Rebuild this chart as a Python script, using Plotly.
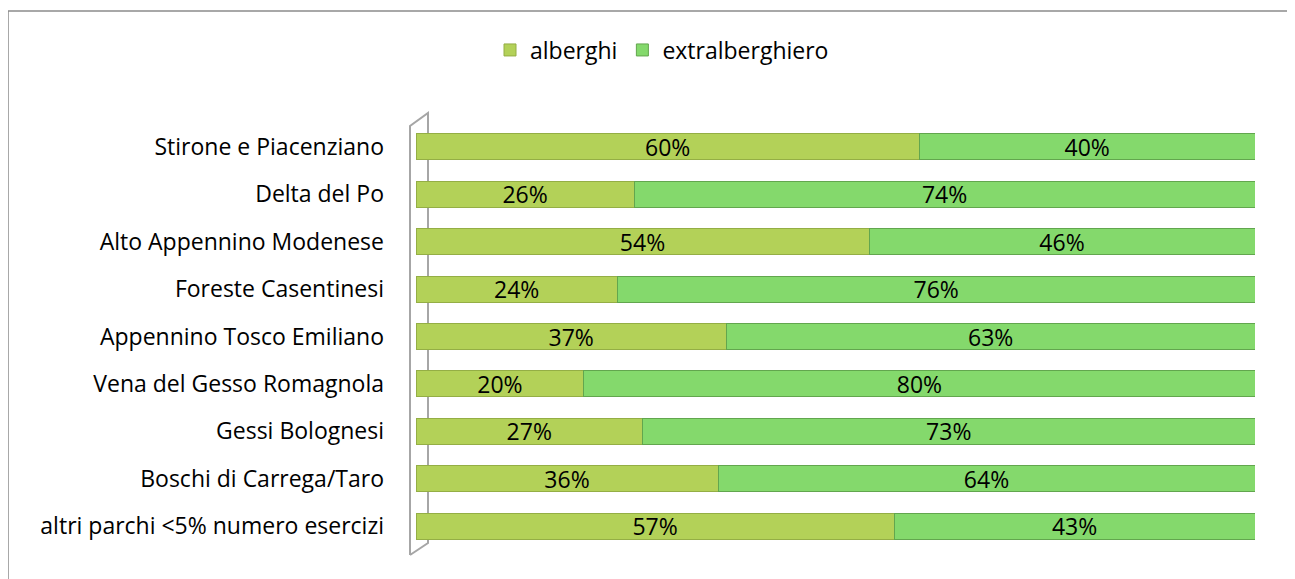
import plotly.graph_objects as go

categories = [
    "Stirone e Piacenziano",
    "Delta del Po",
    "Alto Appennino Modenese",
    "Foreste Casentinesi",
    "Appennino Tosco Emiliano",
    "Vena del Gesso Romagnola",
    "Gessi Bolognesi",
    "Boschi di Carrega/Taro",
    "altri parchi <5% numero esercizi",
]
alberghi = [60, 26, 54, 24, 37, 20, 27, 36, 57]
extralberghiero = [40, 74, 46, 76, 63, 80, 73, 64, 43]
series_names = ["alberghi", "extralberghiero"]

FONT = "Open Sans"
FS = 23

fig = go.Figure()
fig.add_trace(go.Bar(
    y=categories, x=alberghi, orientation="h", name=series_names[0],
    marker=dict(color="#B3D158", line=dict(color="#94AE45", width=1)),
    text=[f"{v}%" for v in alberghi], textposition="inside", insidetextanchor="middle",
    constraintext="none",
    textfont=dict(color="black", size=FS, family=FONT),
))
fig.add_trace(go.Bar(
    y=categories, x=extralberghiero, orientation="h", name=series_names[1],
    marker=dict(color="#84D96C", line=dict(color="#62A64E", width=1)),
    text=[f"{v}%" for v in extralberghiero], textposition="inside", insidetextanchor="middle",
    constraintext="none",
    textfont=dict(color="black", size=FS, family=FONT),
))

# page body has an 8px margin: work in screen coords and shift
OFF = 8
W, H = 1295 - OFF, 579 - OFF
ml = 416 - OFF
mr = W - (1255 - OFF)
mt = 123 - OFF
mb = H - (550 - OFF)
pw, ph = W - ml - mr, H - mt - mb

def px(x):
    return ((x - OFF) - ml) / pw

def py(y):
    return 1 - ((y - OFF) - mt) / ph

path = (f"M {px(410)} {py(555)} L {px(410)} {py(126)} L {px(428)} {py(113)} "
        f"L {px(428)} {py(543)} L {px(410)} {py(555)}")
shapes = [
    dict(type="path", xref="paper", yref="paper", path=path,
         line=dict(color="#A6A6A6", width=2), layer="below"),
    dict(type="rect", xref="paper", yref="paper",
         x0=px(8), x1=px(1288), y0=py(600), y1=py(11),
         line=dict(color="#8C8C8C", width=1.5)),
]

fig.update_layout(
    width=W, height=H,
    barmode="stack", bargap=0.45,
    paper_bgcolor="white", plot_bgcolor="white",
    margin=dict(l=ml, r=mr, t=mt, b=mb),
    font=dict(family=FONT, size=FS, color="black"),
    showlegend=True,
    legend=dict(orientation="h", xref="container", yref="container",
                x=(662 - OFF) / W, xanchor="center",
                y=1 - (50 - OFF) / H, yanchor="middle",
                font=dict(size=FS, family=FONT), traceorder="normal",
                itemwidth=30, bgcolor="rgba(0,0,0,0)"),
    xaxis=dict(range=[0, 100], visible=False, fixedrange=True),
    yaxis=dict(categoryorder="array", categoryarray=categories, autorange="reversed",
               showline=False, showgrid=False, ticks="", ticklabelstandoff=31,
               tickfont=dict(size=FS, family=FONT, color="black")),
    shapes=shapes,
    uniformtext=dict(mode=False),
)

fig.write_html("out.html")
